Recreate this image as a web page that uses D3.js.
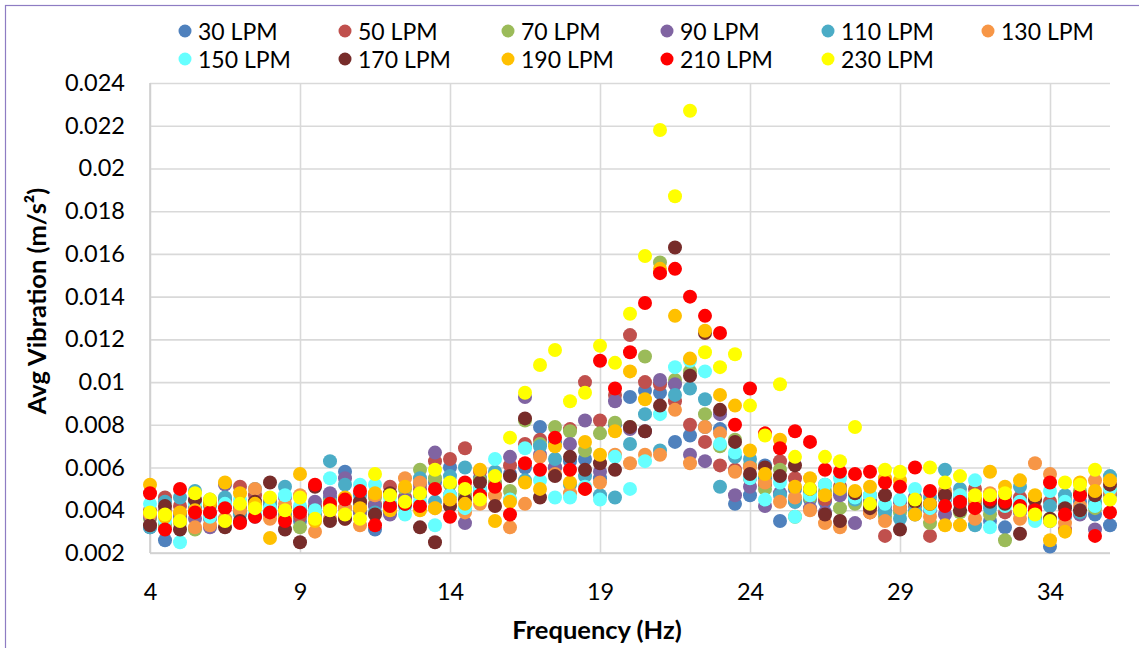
<!DOCTYPE html>
<html><head><meta charset="utf-8">
<script src="https://cdn.jsdelivr.net/npm/d3@7"></script>
<style>
html,body{margin:0;padding:0;background:#fff;}
svg{display:block;font-family:Lato,"Open Sans",sans-serif;}
</style></head>
<body>
<svg id="chart" width="1139" height="648"></svg>
<script>
// Frequency steps (Hz): 4 to 36 every 0.5
const freqs = d3.range(4, 36.001, 0.5);
const seriesNames = ["30 LPM","50 LPM","70 LPM","90 LPM","110 LPM","130 LPM","150 LPM","170 LPM","190 LPM","210 LPM","230 LPM"];
const seriesColors = ["#4F81BD","#C0504D","#9BBB59","#8064A2","#4BACC6","#F79646","#66FFFF","#772C2A","#FFC000","#FF0000","#FFFF00"];

const lpm30 = [0.0032,0.0026,0.0037,0.0041,0.0036,0.0043,0.0040,0.0037,0.0042,0.0038,
  0.0035,0.0041,0.0046,0.0058,0.0043,0.0031,0.0039,0.0045,0.0047,0.0053,
  0.0060,0.0050,0.0055,0.0052,0.0057,0.0060,0.0079,0.0072,0.0063,0.0064,
  0.0055,0.0080,0.0093,0.0096,0.0095,0.0072,0.0075,0.0079,0.0078,0.0043,
  0.0047,0.0061,0.0035,0.0050,0.0045,0.0044,0.0049,0.0046,0.0044,0.0040,
  0.0041,0.0038,0.0042,0.0045,0.0046,0.0043,0.0035,0.0032,0.0043,0.0037,
  0.0023,0.0037,0.0044,0.0038,0.0033];
const lpm50 = [0.0040,0.0046,0.0042,0.0044,0.0038,0.0045,0.0051,0.0047,0.0044,0.0041,
  0.0037,0.0042,0.0040,0.0036,0.0044,0.0043,0.0051,0.0046,0.0050,0.0063,
  0.0064,0.0069,0.0058,0.0052,0.0061,0.0071,0.0073,0.0060,0.0078,0.0100,
  0.0082,0.0094,0.0122,0.0100,0.0099,0.0091,0.0080,0.0072,0.0061,0.0059,
  0.0055,0.0052,0.0063,0.0055,0.0048,0.0045,0.0051,0.0044,0.0039,0.0028,
  0.0044,0.0042,0.0028,0.0046,0.0043,0.0050,0.0044,0.0039,0.0046,0.0041,
  0.0044,0.0031,0.0048,0.0043,0.0050];
const lpm70 = [0.0036,0.0033,0.0034,0.0031,0.0045,0.0036,0.0039,0.0042,0.0040,0.0037,
  0.0032,0.0038,0.0044,0.0041,0.0039,0.0046,0.0043,0.0050,0.0059,0.0055,
  0.0052,0.0047,0.0054,0.0053,0.0049,0.0082,0.0071,0.0079,0.0077,0.0068,
  0.0076,0.0081,0.0079,0.0112,0.0156,0.0101,0.0105,0.0085,0.0070,0.0073,
  0.0061,0.0050,0.0059,0.0037,0.0046,0.0049,0.0041,0.0043,0.0047,0.0037,
  0.0039,0.0043,0.0034,0.0048,0.0039,0.0042,0.0038,0.0026,0.0040,0.0045,
  0.0036,0.0045,0.0049,0.0041,0.0047];
const lpm90 = [0.0037,0.0040,0.0038,0.0036,0.0032,0.0052,0.0041,0.0044,0.0038,0.0046,
  0.0040,0.0044,0.0048,0.0055,0.0039,0.0042,0.0038,0.0045,0.0052,0.0067,
  0.0047,0.0034,0.0050,0.0051,0.0065,0.0093,0.0066,0.0060,0.0071,0.0082,
  0.0058,0.0091,0.0078,0.0077,0.0101,0.0099,0.0066,0.0063,0.0085,0.0047,
  0.0051,0.0042,0.0048,0.0044,0.0041,0.0039,0.0047,0.0034,0.0044,0.0042,
  0.0044,0.0046,0.0040,0.0038,0.0045,0.0041,0.0043,0.0047,0.0039,0.0036,
  0.0035,0.0042,0.0038,0.0031,0.0048];
const lpm110 = [0.0032,0.0044,0.0046,0.0049,0.0042,0.0046,0.0038,0.0050,0.0043,0.0051,
  0.0041,0.0037,0.0063,0.0052,0.0047,0.0039,0.0043,0.0042,0.0055,0.0044,
  0.0056,0.0060,0.0049,0.0058,0.0045,0.0054,0.0070,0.0064,0.0052,0.0056,
  0.0047,0.0046,0.0071,0.0085,0.0068,0.0094,0.0097,0.0092,0.0051,0.0065,
  0.0064,0.0055,0.0047,0.0044,0.0049,0.0052,0.0050,0.0045,0.0042,0.0039,
  0.0036,0.0040,0.0046,0.0059,0.0050,0.0033,0.0041,0.0044,0.0051,0.0037,
  0.0042,0.0047,0.0039,0.0044,0.0056];
const lpm130 = [0.0038,0.0039,0.0035,0.0032,0.0033,0.0036,0.0040,0.0050,0.0036,0.0043,
  0.0047,0.0030,0.0036,0.0041,0.0033,0.0047,0.0041,0.0055,0.0053,0.0041,
  0.0043,0.0039,0.0043,0.0047,0.0032,0.0043,0.0065,0.0057,0.0048,0.0050,
  0.0053,0.0066,0.0062,0.0066,0.0066,0.0087,0.0062,0.0079,0.0076,0.0058,
  0.0060,0.0053,0.0044,0.0046,0.0040,0.0034,0.0032,0.0048,0.0039,0.0035,
  0.0041,0.0044,0.0037,0.0049,0.0047,0.0036,0.0048,0.0043,0.0036,0.0062,
  0.0057,0.0034,0.0042,0.0054,0.0049];
const lpm150 = [0.0043,0.0035,0.0025,0.0043,0.0037,0.0043,0.0045,0.0039,0.0041,0.0047,
  0.0042,0.0040,0.0055,0.0045,0.0052,0.0052,0.0046,0.0038,0.0044,0.0033,
  0.0047,0.0041,0.0050,0.0064,0.0045,0.0069,0.0054,0.0046,0.0046,0.0051,
  0.0045,0.0065,0.0050,0.0063,0.0085,0.0107,0.0110,0.0105,0.0071,0.0067,
  0.0055,0.0045,0.0053,0.0037,0.0047,0.0052,0.0055,0.0046,0.0047,0.0043,
  0.0045,0.0050,0.0041,0.0046,0.0047,0.0054,0.0032,0.0042,0.0044,0.0035,
  0.0049,0.0044,0.0040,0.0042,0.0050];
const lpm170 = [0.0033,0.0042,0.0031,0.0045,0.0043,0.0032,0.0035,0.0044,0.0053,0.0031,
  0.0025,0.0051,0.0035,0.0036,0.0044,0.0038,0.0048,0.0043,0.0032,0.0025,
  0.0042,0.0045,0.0053,0.0042,0.0056,0.0083,0.0046,0.0056,0.0065,0.0059,
  0.0062,0.0059,0.0079,0.0077,0.0089,0.0163,0.0103,0.0123,0.0087,0.0072,
  0.0057,0.0060,0.0056,0.0061,0.0050,0.0038,0.0035,0.0048,0.0041,0.0047,
  0.0031,0.0044,0.0043,0.0047,0.0040,0.0045,0.0044,0.0043,0.0029,0.0045,
  0.0036,0.0041,0.0040,0.0047,0.0052];
const lpm190 = [0.0052,0.0037,0.0039,0.0040,0.0043,0.0053,0.0048,0.0043,0.0027,0.0036,
  0.0057,0.0035,0.0042,0.0046,0.0041,0.0048,0.0040,0.0051,0.0040,0.0041,
  0.0045,0.0043,0.0059,0.0035,0.0044,0.0053,0.0050,0.0070,0.0053,0.0072,
  0.0066,0.0077,0.0105,0.0092,0.0153,0.0131,0.0111,0.0124,0.0094,0.0089,
  0.0068,0.0057,0.0073,0.0051,0.0055,0.0047,0.0050,0.0049,0.0051,0.0055,
  0.0054,0.0038,0.0043,0.0033,0.0033,0.0045,0.0058,0.0051,0.0054,0.0047,
  0.0026,0.0030,0.0053,0.0049,0.0054];
const lpm210 = [0.0048,0.0031,0.0050,0.0039,0.0039,0.0041,0.0034,0.0037,0.0039,0.0035,
  0.0039,0.0052,0.0043,0.0045,0.0049,0.0033,0.0042,0.0043,0.0042,0.0050,
  0.0037,0.0053,0.0047,0.0051,0.0038,0.0062,0.0059,0.0074,0.0059,0.0050,
  0.0110,0.0097,0.0114,0.0137,0.0151,0.0153,0.0140,0.0131,0.0123,0.0080,
  0.0097,0.0076,0.0069,0.0077,0.0072,0.0059,0.0058,0.0057,0.0058,0.0053,
  0.0051,0.0060,0.0049,0.0042,0.0044,0.0041,0.0045,0.0044,0.0042,0.0040,
  0.0053,0.0038,0.0047,0.0028,0.0039];
const lpm230 = [0.0039,0.0038,0.0035,0.0048,0.0045,0.0035,0.0043,0.0041,0.0046,0.0040,
  0.0046,0.0036,0.0040,0.0038,0.0036,0.0057,0.0047,0.0044,0.0048,0.0059,
  0.0053,0.0050,0.0045,0.0056,0.0074,0.0095,0.0108,0.0115,0.0091,0.0095,
  0.0117,0.0109,0.0132,0.0159,0.0218,0.0187,0.0227,0.0114,0.0107,0.0113,
  0.0089,0.0075,0.0099,0.0065,0.0050,0.0065,0.0063,0.0079,0.0043,0.0059,
  0.0058,0.0045,0.0060,0.0053,0.0056,0.0047,0.0047,0.0048,0.0040,0.0038,
  0.0035,0.0053,0.0052,0.0059,0.0045];

const seriesValues = [lpm30,lpm50,lpm70,lpm90,lpm110,lpm130,lpm150,lpm170,lpm190,lpm210,lpm230];
const xTicks = [4,9,14,19,24,29,34];
const yTicks = [0.002,0.004,0.006,0.008,0.010,0.012,0.014,0.016,0.018,0.020,0.022,0.024];

const svg = d3.select("#chart");
const W = 1139, H = 648;
svg.append("rect").attr("width",W).attr("height",H).attr("fill","#fff");
// outer chart border
svg.append("rect").attr("x",5.5).attr("y",5.5).attr("width",W+20).attr("height",H+20)
  .attr("fill","none").attr("stroke","#8E7CC3").attr("stroke-width",1.2);

const plot = {left:150, right:1110, top:83, bottom:553};
const x = d3.scaleLinear().domain([4,36]).range([plot.left, plot.right]);
const y = d3.scaleLinear().domain([0.002,0.024]).range([plot.bottom, plot.top]);

const tickFont = "23.5px";
// gridlines
const gridColor = "#D9D9D9";
const gY = svg.append("g").attr("transform",`translate(${plot.left},0)`)
  .call(d3.axisLeft(y).tickValues(yTicks).tickSize(-(plot.right-plot.left)).tickFormat(d3.format("")) );
gY.select(".domain").remove();
gY.selectAll(".tick line").attr("stroke",gridColor).attr("stroke-width",1.6);
gY.selectAll(".tick text").attr("x",-25).attr("fill","#000").style("font-size",tickFont).style("font-family","Lato");

const gX = svg.append("g").attr("transform",`translate(0,${plot.bottom})`)
  .call(d3.axisBottom(x).tickValues(xTicks).tickSize(-(plot.bottom-plot.top)).tickFormat(d3.format("d")));
gX.select(".domain").remove();
gX.selectAll(".tick line").attr("stroke",gridColor).attr("stroke-width",1.6);
gX.selectAll(".tick text").attr("y",38).attr("dy","0").attr("dominant-baseline","central").attr("fill","#000").style("font-size",tickFont).style("font-family","Lato");

// axis lines
svg.append("line").attr("x1",plot.left).attr("x2",plot.left).attr("y1",plot.top).attr("y2",plot.bottom)
  .attr("stroke","#CFCFCF").attr("stroke-width",1.6);
svg.append("line").attr("x1",plot.left).attr("x2",plot.right).attr("y1",plot.bottom).attr("y2",plot.bottom)
  .attr("stroke","#CFCFCF").attr("stroke-width",1.6);

// points
seriesValues.forEach((vals, si) => {
  svg.append("g").selectAll("circle").data(vals).join("circle")
    .attr("cx",(d,i)=>x(freqs[i])).attr("cy",d=>y(d)).attr("r",7)
    .attr("fill",seriesColors[si]);
});

// axis titles
svg.append("text").attr("x",597).attr("y",629).attr("text-anchor","middle").attr("dominant-baseline","central")
  .style("font-family","Lato").style("font-weight","bold").style("font-size","25.5px").text("Frequency (Hz)");
svg.append("text").attr("transform","translate(36,301) rotate(-90)").attr("text-anchor","middle").attr("dominant-baseline","central")
  .style("font-family","Lato").style("font-weight","bold").style("font-size","25.5px")
  .text("Avg Vibration (m/s²)");

// legend
const legX = [185,345,508,667,828,988];
const legY = [31,59];
seriesNames.forEach((name, i) => {
  const row = Math.floor(i/6), col = i%6;
  const g = svg.append("g").attr("transform",`translate(${legX[col]},${legY[row]})`);
  g.append("circle").attr("r",6.5).attr("fill",seriesColors[i]);
  g.append("text").attr("x",13).attr("dominant-baseline","central")
    .style("font-family","Lato").style("font-size","23px").text(name);
});
</script>
</body></html>
